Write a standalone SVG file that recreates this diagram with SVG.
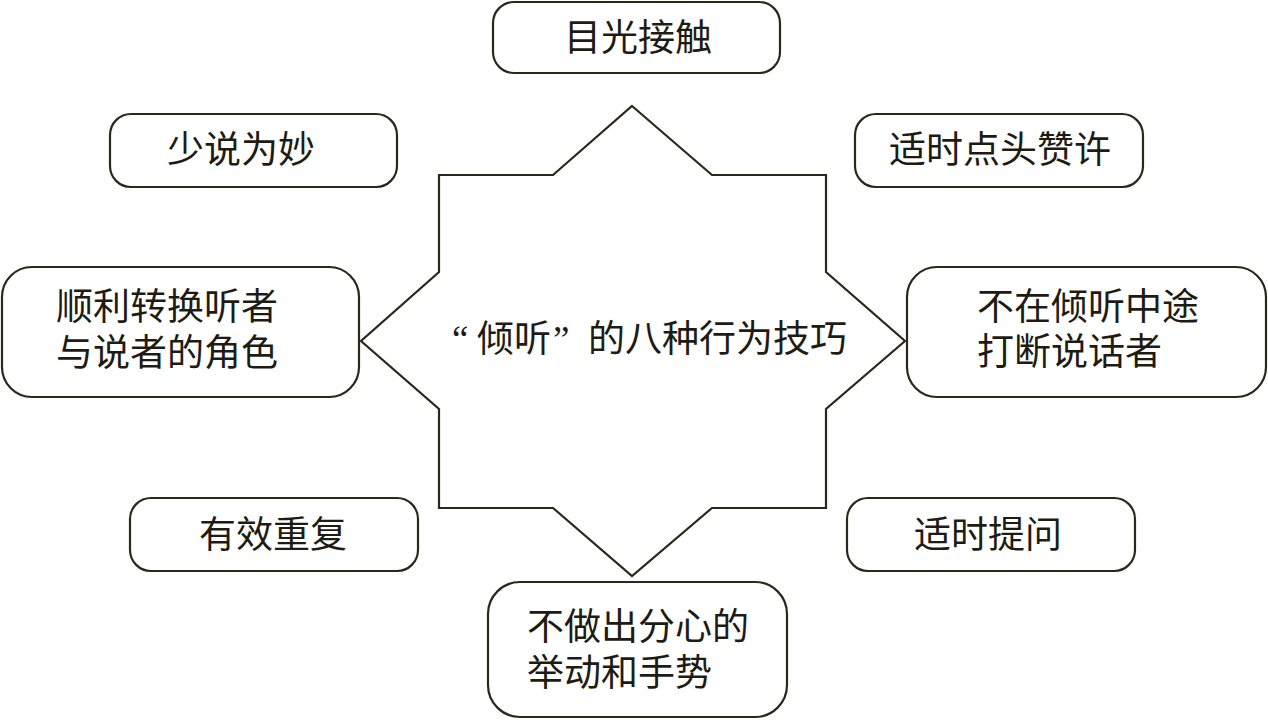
<svg xmlns="http://www.w3.org/2000/svg" width="1268" height="720" viewBox="0 0 1268 720">
<style>
.box{fill:#ffffff;stroke:#2a2818;stroke-width:2.2}
.star{fill:#ffffff;stroke:#2a2818;stroke-width:2.2;stroke-linejoin:miter}
.t{font-family:"Liberation Serif","Noto Sans CJK SC",serif;font-size:37px;fill:#1e1c12}
.c{text-anchor:middle}
</style>
<rect width="1268" height="720" fill="#ffffff"/>
<g id="connectors"></g>
<g id="center">
<path class="star" d="M632,106 L712,175 L826,175 L826,272 L905,341 L826,409 L826,508 L712,508 L632,576 L553,508 L439,508 L439,409 L361,341 L439,272 L439,175 L553,175 Z"/>
<text class="t" y="352"><tspan x="452">“</tspan><tspan x="477">倾听</tspan><tspan x="553">”</tspan><tspan x="588">的八种行为技巧</tspan></text>
</g>
<g id="n-top">
<rect class="box" x="493" y="2" width="287" height="71" rx="21"/>
<text class="t c" x="638" y="51">目光接触</text>
</g>
<g id="n-topleft">
<rect class="box" x="110" y="114" width="287" height="73" rx="21"/>
<text class="t c" x="241" y="163">少说为妙</text>
</g>
<g id="n-topright">
<rect class="box" x="855" y="114" width="288" height="73" rx="21"/>
<text class="t c" x="1000" y="163">适时点头赞许</text>
</g>
<g id="n-left">
<rect class="box" x="2" y="267" width="357" height="130" rx="30"/>
<text class="t" x="56" y="320">顺利转换听者</text>
<text class="t" x="56" y="366">与说者的角色</text>
</g>
<g id="n-right">
<rect class="box" x="907" y="267" width="359" height="130" rx="30"/>
<text class="t" x="977" y="320">不在倾听中途</text>
<text class="t" x="977" y="365">打断说话者</text>
</g>
<g id="n-bottomleft">
<rect class="box" x="130" y="498" width="288" height="73" rx="21"/>
<text class="t c" x="273" y="548">有效重复</text>
</g>
<g id="n-bottomright">
<rect class="box" x="847" y="498" width="288" height="73" rx="21"/>
<text class="t c" x="988" y="548">适时提问</text>
</g>
<g id="n-bottom">
<rect class="box" x="488" y="582" width="299" height="135" rx="32"/>
<text class="t" x="527" y="640">不做出分心的</text>
<text class="t" x="527" y="686">举动和手势</text>
</g>
</svg>
